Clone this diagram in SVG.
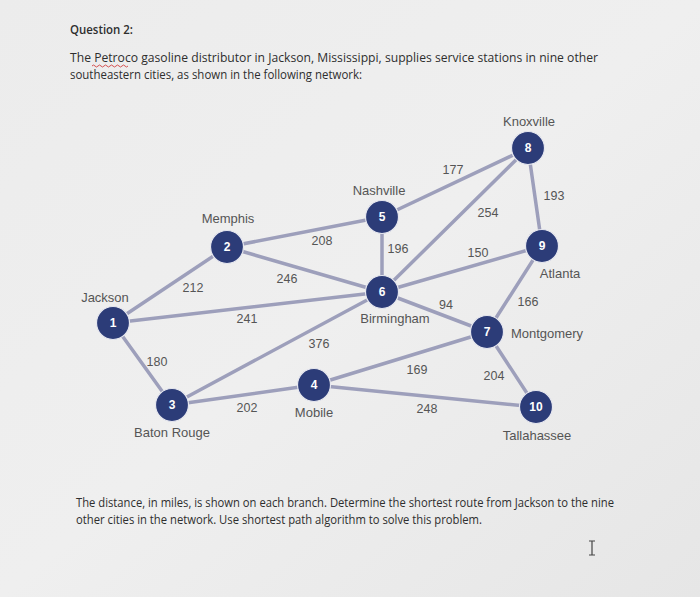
<svg xmlns="http://www.w3.org/2000/svg" width="700" height="597" viewBox="0 0 700 597">
<defs>
<linearGradient id="bg" x1="0" y1="0" x2="1" y2="1">
<stop offset="0" stop-color="#ececec"/>
<stop offset="0.5" stop-color="#efefef"/>
<stop offset="1" stop-color="#e6e6e6"/>
</linearGradient>
<style>
.body{font-family:"Open Sans","Lato","Liberation Sans",sans-serif;font-size:12.5px;fill:#2e2e2e}
.edge{stroke:#9d9fbb;stroke-width:3.5;fill:none;stroke-linecap:round}
.node circle{fill:#2c3c78;stroke:#e6e7ef;stroke-width:1.2}
.num{font-family:"Liberation Sans",Arial,sans-serif;font-size:12px;font-weight:bold;fill:#fff;text-anchor:middle}
.city{font-family:"Liberation Sans",Arial,sans-serif;font-size:13px;fill:#555;text-anchor:middle}
.w{font-family:"Liberation Sans",Arial,sans-serif;font-size:12.5px;fill:#555;text-anchor:middle}
</style>
</defs>
<rect width="700" height="597" fill="url(#bg)"/>
<text class="body" x="70" y="34" font-size="13" font-weight="600" textLength="63" lengthAdjust="spacingAndGlyphs">Question 2:</text>
<text class="body" x="70" y="62" textLength="528" lengthAdjust="spacingAndGlyphs">The Petroco gasoline distributor in Jackson, Mississippi, supplies service stations in nine other</text>
<path d="M92 66 q1.5 -2 3 0 t3 0 t3 0 t3 0 t3 0 t3 0 t3 0 t3 0 t3 0 t3 0 t3 0 t3 0" stroke="#d04040" stroke-width="0.9" fill="none"/>
<text class="body" x="70" y="79" textLength="292" lengthAdjust="spacingAndGlyphs">southeastern cities, as shown in the following network:</text>
<text class="body" x="76" y="507" textLength="538" lengthAdjust="spacingAndGlyphs">The distance, in miles, is shown on each branch. Determine the shortest route from Jackson to the nine</text>
<text class="body" x="76" y="524" textLength="406" lengthAdjust="spacingAndGlyphs">other cities in the network. Use shortest path algorithm to solve this problem.</text>
<path d="M589 541 h6 M592 541 v14 M589 555 h6" stroke="#444" stroke-width="1.2" fill="none"/>
<g id="connectors">
<line class="edge" x1="113" y1="323" x2="227" y2="247"/>
<line class="edge" x1="113" y1="323" x2="382" y2="292"/>
<line class="edge" x1="113" y1="323" x2="172" y2="405"/>
<line class="edge" x1="227" y1="247" x2="382" y2="217"/>
<line class="edge" x1="227" y1="247" x2="382" y2="292"/>
<line class="edge" x1="172" y1="405" x2="382" y2="292"/>
<line class="edge" x1="172" y1="405" x2="314" y2="385"/>
<line class="edge" x1="314" y1="385" x2="487" y2="332"/>
<line class="edge" x1="314" y1="385" x2="536" y2="407"/>
<line class="edge" x1="382" y1="217" x2="382" y2="292"/>
<line class="edge" x1="382" y1="217" x2="528" y2="148"/>
<line class="edge" x1="382" y1="292" x2="528" y2="148"/>
<line class="edge" x1="382" y1="292" x2="542" y2="246"/>
<line class="edge" x1="382" y1="292" x2="487" y2="332"/>
<line class="edge" x1="487" y1="332" x2="542" y2="246"/>
<line class="edge" x1="487" y1="332" x2="536" y2="407"/>
<line class="edge" x1="528" y1="148" x2="542" y2="246"/>
<text class="w" x="193" y="292">212</text>
<text class="w" x="322" y="245">208</text>
<text class="w" x="287" y="283">246</text>
<text class="w" x="247" y="323">241</text>
<text class="w" x="319" y="348">376</text>
<text class="w" x="157" y="366">180</text>
<text class="w" x="247" y="412">202</text>
<text class="w" x="453" y="174">177</text>
<text class="w" x="554" y="200">193</text>
<text class="w" x="488" y="217">254</text>
<text class="w" x="398" y="253">196</text>
<text class="w" x="478" y="257">150</text>
<text class="w" x="528" y="306">166</text>
<text class="w" x="446" y="309">94</text>
<text class="w" x="417" y="374">169</text>
<text class="w" x="494" y="380">204</text>
<text class="w" x="427" y="413">248</text>
</g>
<g id="n1" class="node"><circle cx="113" cy="323" r="16.5"/><text class="num" x="113" y="327">1</text><text class="city" x="105" y="302">Jackson</text></g>
<g id="n2" class="node"><circle cx="227" cy="247" r="16.5"/><text class="num" x="227" y="251">2</text><text class="city" x="228" y="223">Memphis</text></g>
<g id="n3" class="node"><circle cx="172" cy="405" r="16.5"/><text class="num" x="172" y="409">3</text><text class="city" x="172" y="437">Baton Rouge</text></g>
<g id="n4" class="node"><circle cx="314" cy="385" r="16.5"/><text class="num" x="314" y="389">4</text><text class="city" x="314" y="417">Mobile</text></g>
<g id="n5" class="node"><circle cx="382" cy="217" r="16.5"/><text class="num" x="382" y="221">5</text><text class="city" x="379" y="195">Nashville</text></g>
<g id="n6" class="node"><circle cx="382" cy="292" r="16.5"/><text class="num" x="382" y="296">6</text><text class="city" x="395" y="323">Birmingham</text></g>
<g id="n7" class="node"><circle cx="487" cy="332" r="16.5"/><text class="num" x="487" y="336">7</text><text class="city" x="547" y="338">Montgomery</text></g>
<g id="n8" class="node"><circle cx="528" cy="148" r="16.5"/><text class="num" x="528" y="152">8</text><text class="city" x="529" y="126">Knoxville</text></g>
<g id="n9" class="node"><circle cx="542" cy="246" r="16.5"/><text class="num" x="542" y="250">9</text><text class="city" x="560" y="278">Atlanta</text></g>
<g id="n10" class="node"><circle cx="536" cy="407" r="16.5"/><text class="num" x="536" y="411">10</text><text class="city" x="537" y="440">Tallahassee</text></g>
</svg>
